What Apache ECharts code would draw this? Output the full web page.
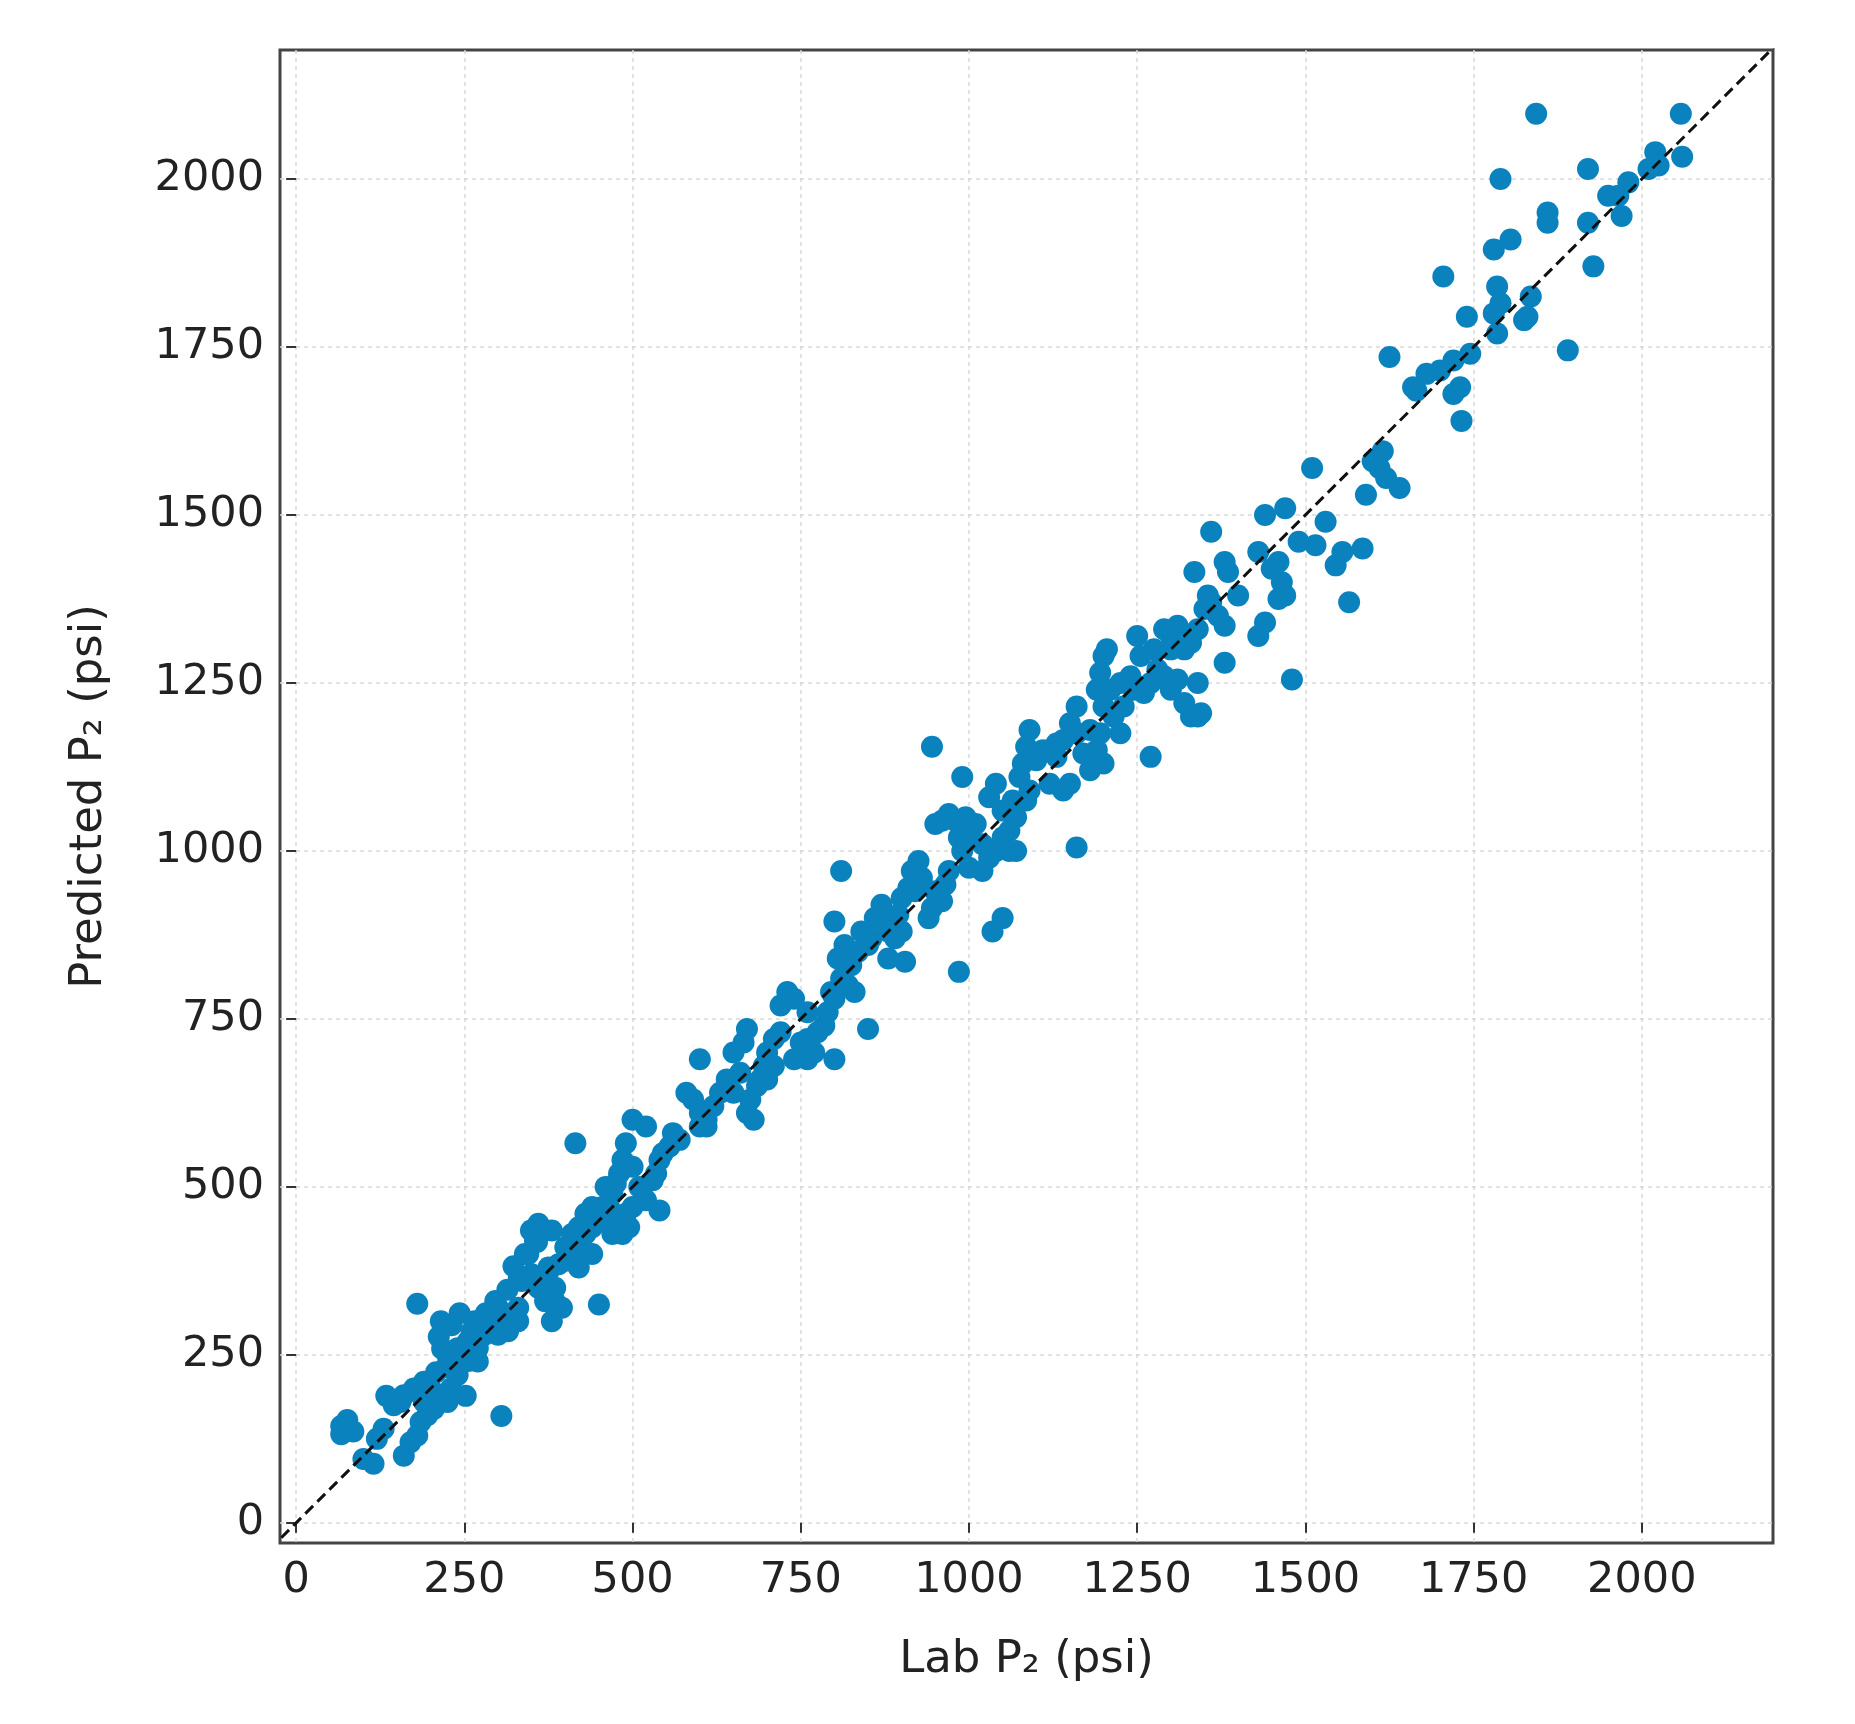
<!DOCTYPE html>
<html>
<head>
<meta charset="utf-8">
<script src="https://cdn.jsdelivr.net/npm/echarts@6/dist/echarts.min.js"></script>
<style>html,body{margin:0;background:#fff}#c{width:1855px;height:1724px}</style>
</head>
<body>
<div id="c"></div>
<script>
var tickValues = [0, 250, 500, 750, 1000, 1250, 1500, 1750, 2000];
var xRange = [-24, 2195];
var yRange = [-30, 2192];
var identityLine = [[-40, -40], [2210, 2210]];

// [lab, predicted]
var points = [
  [1843,2097],[2058,2097],[1790,2000],[1920,2015],[1705,1855],[1890,1745],[1928,1870],[1625,1735],
  [1732,1640],[1510,1570],[1360,1475],[1565,1370],[1480,1255],[1160,1005],[945,1155],[985,820],
  [850,735],[810,970],[415,565],[305,159],[180,326],[540,465],[450,325],[1050,900],[1035,880],
  [1270,1140],[1340,1200],
  [2060,2033],[2020,2040],[2025,2020],[2010,2015],[1980,1995],[1965,1975],[1970,1945],[1920,1935],
  [1860,1950],[1860,1935],[1805,1910],[1780,1895],[1785,1840],[1790,1815],[1780,1800],[1785,1770],
  [1835,1825],[1830,1795],[1825,1790],[1740,1795],[1745,1740],[1720,1730],[1700,1715],[1680,1710],
  [1665,1685],[1720,1680],[1730,1690],[1610,1570],[1615,1595],[1620,1555],[1640,1540],[1590,1530],
  [1585,1450],[1545,1425],[1555,1445],[1530,1490],[1515,1455],[1490,1460],[1470,1510],[1440,1500],
  [1430,1445],[1460,1430],[1465,1400],[1470,1380],[1460,1375],[1450,1420],[1440,1340],[1430,1320],
  [1385,1415],[1380,1430],[1380,1335],[1370,1350],[1380,1280],[1355,1380],[1350,1360],[1340,1330],
  [1335,1415],[1330,1310],[1320,1300],[1310,1335],[1300,1320],[1290,1330],[1290,1260],[1300,1240],
  [1310,1255],[1320,1220],[1330,1200],[1345,1205],[1340,1250],[1280,1270],[1270,1250],[1260,1235],
  [1255,1290],[1250,1320],[1240,1260],[1230,1215],[1225,1250],[1210,1240],[1205,1300],[1200,1290],
  [1195,1265],[1190,1240],[1200,1215],[1215,1200],[1225,1175],[1195,1175],[1190,1150],[1200,1130],
  [1180,1120],[1170,1145],[1160,1175],[1160,1215],[1150,1190],[1140,1165],[1130,1140],[1150,1100],
  [1140,1090],[1120,1100],[1110,1150],[1100,1135],[1090,1180],[1085,1155],[1080,1130],[1075,1110],
  [1085,1075],[1070,1050],[1060,1030],[1065,1075],[1050,1060],[1050,1020],[1040,1100],[1040,1000],
  [1030,1080],[1030,990],[1020,1010],[1010,1040],[1000,1020],[995,1050],[990,1000],[985,1020],
  [980,1045],[970,1055],[960,1045],[950,1040],[990,1110],[1000,975],[970,970],[965,950],[960,925],
  [950,940],[945,915],[940,900],[930,960],[925,985],[915,970],[910,945],[900,930],[900,880],
  [895,905],[890,870],[880,890],[870,920],[860,900],[855,870],[850,860],[840,880],[835,850],
  [825,830],[815,860],[805,840],[810,810],[800,895],[795,790],[800,780],[790,760],[785,740],
  [775,730],[770,700],[800,690],[760,690],[750,715],[740,780],[730,790],[720,770],[720,730],
  [710,720],[700,700],[695,680],[700,660],[685,650],[675,630],[670,610],[680,600],[660,670],
  [670,735],[665,715],[640,660],[620,620],[610,600],[600,610],[590,630],[580,640],[600,690],
  [560,580],[555,560],[545,550],[540,540],[535,520],[530,510],[520,590],[500,600],[490,565],
  [485,540],[480,520],[475,505],[470,490],[465,470],[490,460],[495,440],[485,430],[480,450],
  [470,440],[455,470],[450,455],[440,470],[430,460],[420,440],[410,430],[420,410],[400,390],
  [390,385],[385,350],[395,320],[380,300],[370,330],[360,350],[350,370],[345,400],[355,420],
  [360,445],[330,320],[320,300],[315,285],[300,320],[290,300],[280,280],[270,260],[265,300],
  [255,270],[245,245],[240,220],[230,200],[225,180],[210,190],[205,170],[195,160],[185,150],
  [180,130],[170,120],[160,100],[190,210],[175,200],[160,190],[145,175],[130,140],[120,125],
  [100,95],[115,88],[67,144],[76,153],[85,136],[67,132],[134,189],[155,180],[208,224],[212,277],
  [217,259],[226,241],[231,294],[243,312],[252,189],[256,241],[261,285],[282,312],[296,330],
  [314,347],[323,382],[331,365],[340,400],[349,435],[358,418],[375,374],[384,330],[215,300],
  [380,435],[500,530],[510,500],[460,500],[430,430],[440,400],[400,410],[335,360],[375,380],
  [610,590],[630,640],[650,700],[740,690],[760,760],[820,800],[880,880],[920,940],[1070,1000],
  [1130,1160],[1180,1180],[1245,1240],[1275,1300],[1300,1300],[1360,1370],[1400,1380],[1600,1580],
  [1660,1690],[1950,1975],[1090,1090],[1060,1000],[1020,970],[880,840],[905,835],[830,790],
  [760,720],[710,680],[690,660],[650,640],[600,590],[570,570],[520,480],[500,470],[470,430],
  [440,440],[420,380],[330,300],[300,280],[270,240],[240,260],[230,230],[200,200],[190,180]
];

var axisCommon = {
  type: 'value',
  axisLine: {show: false},
  axisTick: {show: true, length: 10, lineStyle: {color: '#333', width: 2}, customValues: tickValues},
  axisLabel: {color: '#222', fontSize: 43, fontFamily: 'DejaVu Sans', margin: 16,
    customValues: tickValues, formatter: function (v) { return String(v); }},
  splitLine: {show: true, lineStyle: {color: '#d9d9d9', width: 1.5, type: [4, 4]}},
  nameLocation: 'middle',
  nameTextStyle: {color: '#222', fontSize: 45, fontFamily: 'DejaVu Sans'}
};

var chart = echarts.init(document.getElementById('c'));
chart.setOption({
  animation: false,
  backgroundColor: '#fff',
  grid: {left: 280, right: 82, top: 50, bottom: 181, show: true, borderColor: '#444', borderWidth: 3},
  xAxis: Object.assign({}, axisCommon, {min: xRange[0], max: xRange[1], name: 'Lab P₂ (psi)', nameGap: 95}),
  yAxis: Object.assign({}, axisCommon, {min: yRange[0], max: yRange[1], name: 'Predicted P₂ (psi)', nameGap: 168}),
  series: [
    {type: 'scatter', data: points, symbolSize: 22, itemStyle: {color: '#0a82be', opacity: 1}},
    {type: 'line', data: identityLine, symbol: 'none', z: 5,
     lineStyle: {color: '#111', width: 3, type: [11, 6]}}
  ]
});
</script>
</body>
</html>
